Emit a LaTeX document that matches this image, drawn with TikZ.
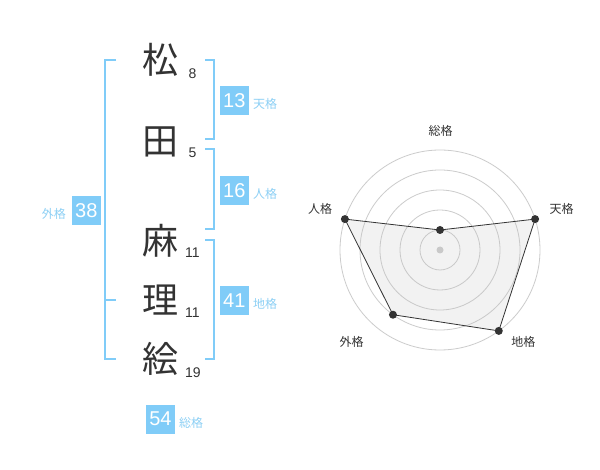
\documentclass[tikz,border=0pt]{standalone}
\usepackage{fontspec}
\usetikzlibrary{calc}
\setmainfont{Noto Sans CJK JP}
\newfontfamily\numfont{Liberation Sans}
\definecolor{boxblue}{HTML}{80CCF8}
\definecolor{lblblue}{HTML}{8DD0F5}
\definecolor{ink}{HTML}{333333}
\definecolor{ringgray}{HTML}{CCCCCC}
\tikzset{
  kanji/.style={anchor=base,inner sep=0pt,text=ink,font=\fontsize{36}{36}\selectfont},
  strokes/.style={anchor=base west,inner sep=0pt,text=ink,font=\numfont\fontsize{14}{14}\selectfont},
  gbox/.style={fill=boxblue,text=white,minimum size=29pt,inner sep=0pt,font=\numfont\fontsize{20}{20}\selectfont},
  glabel/.style={anchor=west,inner sep=0pt,text=lblblue,font=\fontsize{12}{12}\selectfont},
  bracket/.style={draw=boxblue,line width=2pt},
  ring/.style={draw=ringgray,line width=0.8pt},
  axlabel/.style={inner sep=0pt,text=ink,font=\fontsize{12}{12}\selectfont},
  dot/.style={circle,fill=ink,inner sep=0pt,minimum size=8pt},
}
\begin{document}
\begin{tikzpicture}[x=1pt,y=1pt]
\useasboundingbox[fill=white] (0,0) rectangle (600,-470);
% name characters
\node[kanji] (k1) at (160,-73.3) {松};
\node[kanji] (k2) at (160,-154.6) {田};
\node[kanji] (k3) at (160,-254.1) {麻};
\node[kanji] (k4) at (160,-313.3) {理};
\node[kanji] (k5) at (160,-372.3) {絵};
\node[strokes] (s1) at (188.5,-78.3) {8};
\node[strokes] (s2) at (188.5,-157.7) {5};
\node[strokes] (s3) at (185,-257.7) {11};
\node[strokes] (s4) at (185,-317.3) {11};
\node[strokes] (s5) at (185,-377.3) {19};
% brackets
\draw[bracket] (116,-60) -- (105,-60) -- (105,-359.3) -- (116,-359.3);
\draw[bracket] (105,-300) -- (116,-300);
\draw[bracket] (205,-60) -- (214.3,-60) -- (214.3,-139.3) -- (205,-139.3);
\draw[bracket] (205,-149.3) -- (214.3,-149.3) -- (214.3,-229.3) -- (205,-229.3);
\draw[bracket] (205,-240) -- (214.3,-240) -- (214.3,-359.3) -- (205,-359.3);
% boxes
\node[gbox] (ten) at (234.3,-100.3) {13};
\node[glabel] (tenl) at (253,-104) {天格};
\node[gbox] (jin) at (234.3,-190.3) {16};
\node[glabel] (jinl) at (253,-193.5) {人格};
\node[gbox] (chi) at (234.3,-300.3) {41};
\node[glabel] (chil) at (253,-304.3) {地格};
\node[gbox] (gai) at (86.3,-210.3) {38};
\node[glabel,anchor=east] (gail) at (66,-214) {外格};
\node[gbox] (sou) at (160.5,-419.2) {54};
\node[glabel] (soul) at (179,-422.7) {総格};
% radar chart
\coordinate (c) at (440,-250);
\foreach \r in {20,40,60,80,100} \draw[ring] (c) circle (\r pt);
\fill[ringgray] (c) circle (3.5pt);
\coordinate (p1) at ($(c)+(90:20pt)$);
\coordinate (p2) at ($(c)+(18:100pt)$);
\coordinate (p3) at ($(c)+(-54:100pt)$);
\coordinate (p4) at ($(c)+(-126:80pt)$);
\coordinate (p5) at ($(c)+(162:100pt)$);
\filldraw[fill=gray!50,fill opacity=0.2,draw=ink,line width=0.8pt] (p1) -- (p2) -- (p3) -- (p4) -- (p5) -- cycle;
\foreach \p in {p1,p2,p3,p4,p5} \node[dot] at (\p) {};
\node[axlabel] (a1) at (440.7,-130.7) {総格};
\node[axlabel] (a2) at (561.7,-209) {天格};
\node[axlabel] (a3) at (523.3,-341.7) {地格};
\node[axlabel] (a4) at (351.7,-341.7) {外格};
\node[axlabel] (a5) at (320,-209) {人格};
\end{tikzpicture}
\end{document}
